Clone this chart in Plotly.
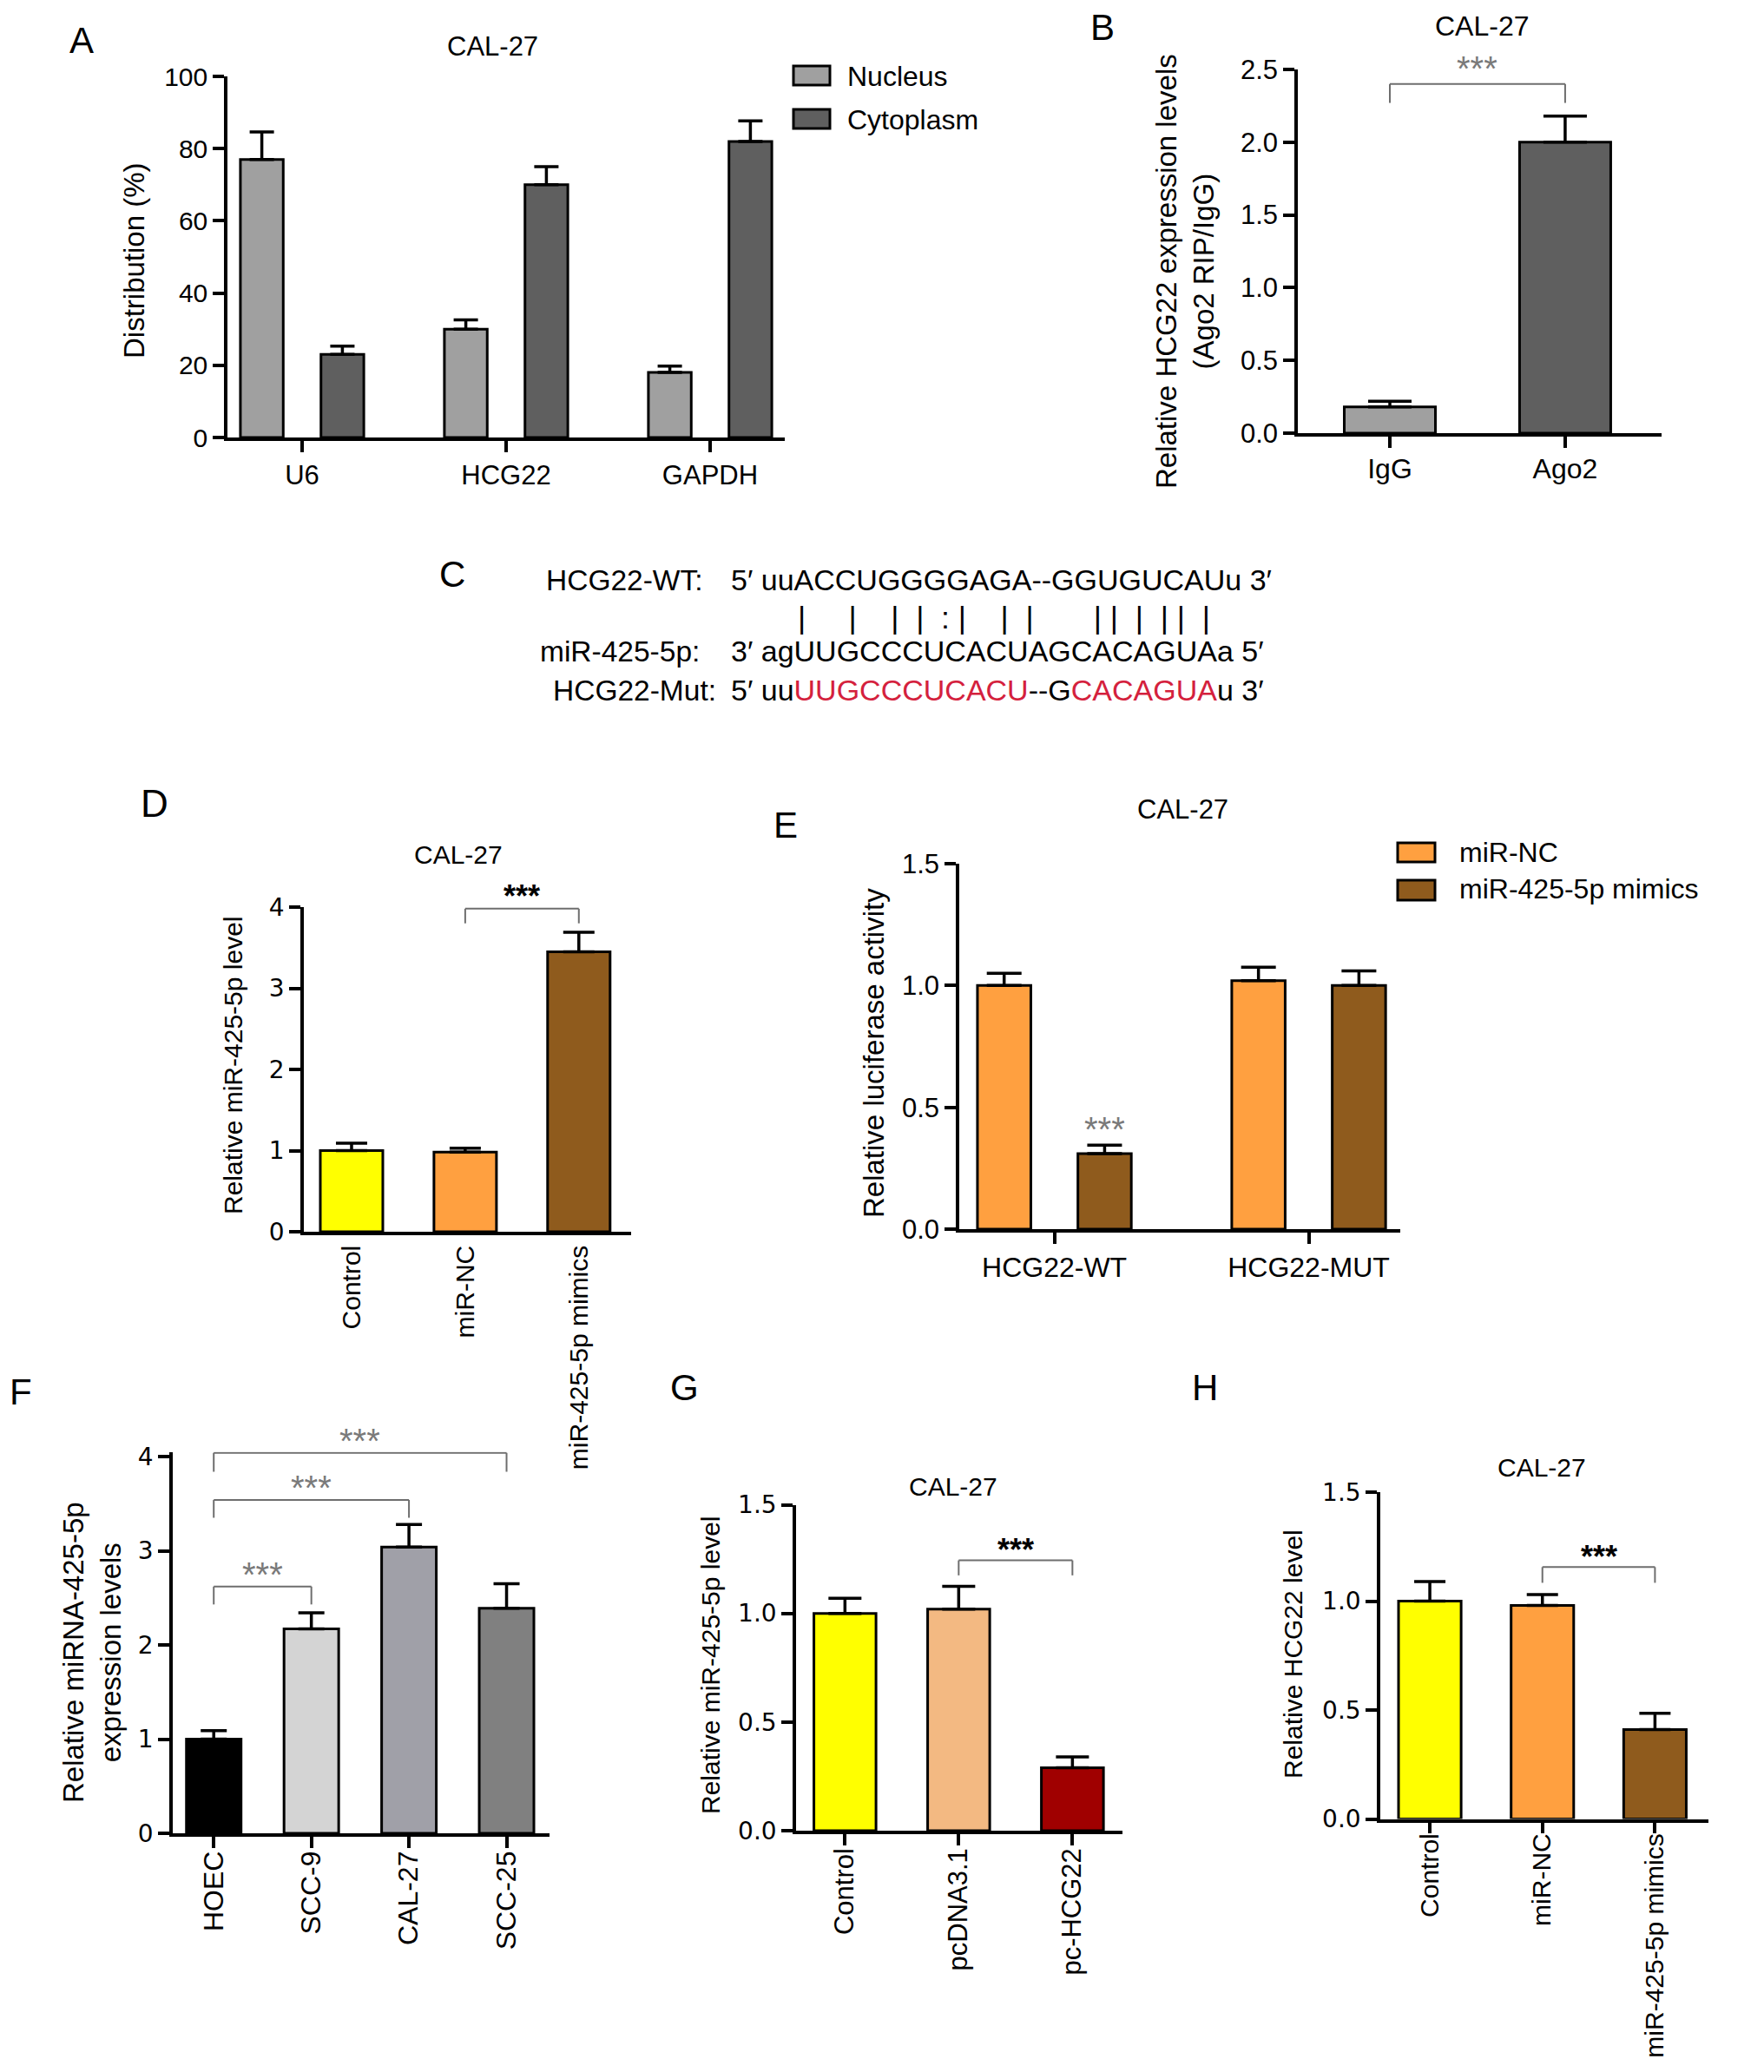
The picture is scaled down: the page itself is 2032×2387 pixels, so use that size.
import plotly.graph_objects as go

# Browser body margin is 8 px, so the figure is drawn 8 px smaller and every
# reference pixel position is shifted by that offset.
PAGE_W, PAGE_H = 2032, 2387
OFF = 8
W, H = PAGE_W - OFF, PAGE_H - OFF
BASE = "Liberation Sans, Arial, Helvetica, sans-serif"
WIDE = "DejaVu Sans, Verdana, sans-serif"

# ---------------- data ----------------
# A: subcellular distribution
a_categories = ["U6", "HCG22", "GAPDH"]
a_series = ["Nucleus", "Cytoplasm"]
a_nucleus = [77, 30, 18]
a_nucleus_err = [7.6, 2.6, 1.8]
a_cytoplasm = [23, 70, 82]
a_cytoplasm_err = [2.3, 5.0, 5.7]
a_colors = ["#a0a0a0", "#5f5f5f"]
a_yticks = [0, 20, 40, 60, 80, 100]

# B: RIP
b_categories = ["IgG", "Ago2"]
b_values = [0.18, 2.0]
b_err = [0.04, 0.18]
b_colors = ["#a0a0a0", "#5f5f5f"]
b_yticks = [0, 0.5, 1.0, 1.5, 2.0, 2.5]
b_sig = [(0, 1, 2.40, 2.27)]

# C: sequence alignment
c_labels = ["HCG22-WT:", "miR-425-5p:", "HCG22-Mut:"]
c_wt = "5\u2032 uuACCUGGGGAGA--GGUGUCAUu 3\u2032"
c_mir = "3\u2032 agUUGCCCUCACUAGCACAGUAa 5\u2032"
c_mut_parts = [("5\u2032 uu", False), ("UUGCCCUCACU", True), ("--G", False),
               ("CACAGUA", True), ("u 3\u2032", False)]
c_pairs = "|     |    |  |  :\u00a0|    |  |       | |  |  | |  |"

# D
d_categories = ["Control", "miR-NC", "miR-425-5p mimics"]
d_values = [1.0, 0.98, 3.45]
d_err = [0.09, 0.05, 0.24]
d_colors = ["#ffff00", "#ffa040", "#8f5b1d"]
d_yticks = [0, 1, 2, 3, 4]
d_sig = [(1, 2, 3.98, 3.80)]

# E: luciferase
e_categories = ["HCG22-WT", "HCG22-MUT"]
e_series = ["miR-NC", "miR-425-5p mimics"]
e_mirnc = [1.0, 1.02]
e_mirnc_err = [0.05, 0.055]
e_mimics = [0.31, 1.0]
e_mimics_err = [0.035, 0.06]
e_colors = ["#ffa040", "#8f5b1d"]
e_yticks = [0, 0.5, 1.0, 1.5]
e_star = (0, 1, 0.426)   # category index, series index, star level

# F
f_categories = ["HOEC", "SCC-9", "CAL-27", "SCC-25"]
f_values = [1.0, 2.17, 3.04, 2.39]
f_err = [0.09, 0.17, 0.24, 0.26]
f_colors = ["#000000", "#d4d4d4", "#a0a0a8", "#808080"]
f_yticks = [0, 1, 2, 3, 4]
f_sig = [(0, 1, 2.62, 2.43), (0, 2, 3.54, 3.35), (0, 3, 4.04, 3.84)]

# G
g_categories = ["Control", "pcDNA3.1", "pc-HCG22"]
g_values = [1.0, 1.02, 0.29]
g_err = [0.07, 0.105, 0.05]
g_colors = ["#ffff00", "#f3b982", "#a00000"]
g_yticks = [0, 0.5, 1.0, 1.5]
g_sig = [(1, 2, 1.244, 1.175)]

# H
h_categories = ["Control", "miR-NC", "miR-425-5p mimics"]
h_values = [1.0, 0.98, 0.41]
h_err = [0.09, 0.05, 0.075]
h_colors = ["#ffff00", "#ffa040", "#8f5b1d"]
h_yticks = [0, 0.5, 1.0, 1.5]
h_sig = [(1, 2, 1.156, 1.084)]

# ---------------- layout helpers ----------------
BARGAP = 0.21
fig = go.Figure()
layout = {}
annotations = []
shapes = []


def PX(px):
    return (px - OFF) / W


def PY(py):
    return 1 - (py - OFF) / H


def ids(n):
    return ("x", "y") if n == 1 else (f"x{n}", f"y{n}")


def add_axes(n, xpx, ypx, yrange, yticks, yfmt, xrange, yfont, xfont,
             xangle=0, xticks=True, xstand=0):
    xr, yr = ids(n)
    xa = "xaxis" if n == 1 else f"xaxis{n}"
    ya = "yaxis" if n == 1 else f"yaxis{n}"
    layout[xa] = dict(domain=[PX(xpx[0]), PX(xpx[1])], anchor=yr, type="category",
                      range=xrange, showline=True, linewidth=3.5, linecolor="black",
                      ticks="outside" if xticks else "", ticklen=13, tickwidth=3.5,
                      tickcolor="black", showgrid=False, zeroline=False, automargin=False,
                      tickfont=xfont, tickangle=xangle, fixedrange=True,
                      ticklabelstandoff=xstand)
    layout[ya] = dict(domain=[PY(ypx[1]), PY(ypx[0])], anchor=xr,
                      range=yrange, tickmode="array", tickvals=yticks, tickformat=yfmt,
                      showline=True, linewidth=3.5, linecolor="black", automargin=False,
                      ticks="outside", ticklen=13, tickwidth=3.5, tickcolor="black",
                      showgrid=False, zeroline=False, tickfont=yfont, fixedrange=True)


def add_bar(n, cats, vals, errs, colors, width, cap, name):
    xr, yr = ids(n)
    fig.add_trace(go.Bar(
        x=cats, y=vals, xaxis=xr, yaxis=yr, width=width, name=name,
        marker=dict(color=colors, line=dict(color="black", width=3)),
        error_y=dict(type="data", symmetric=False, array=errs,
                     arrayminus=[0] * len(errs), color="black",
                     thickness=3.5, width=cap),
        showlegend=False))


def star_annotation(xr, yr, x, y, bold, lift=0):
    if bold:
        annotations.append(dict(x=x, y=y, xref=xr, yref=yr, text="<b>***</b>",
                                showarrow=False, yanchor="middle", yshift=lift - 9,
                                font=dict(family=BASE, size=36, color="black")))
    else:
        annotations.append(dict(x=x, y=y, xref=xr, yref=yr, text="***",
                                showarrow=False, yanchor="middle", yshift=lift - 5,
                                font=dict(family=BASE, size=40, color="#7a7a7a")))


def add_brackets(n, sigs, bold, lift):
    xr, yr = ids(n)
    for i, j, ytop, yend in sigs:
        line = dict(color="#6e6e6e", width=2)
        shapes.append(dict(type="line", xref=xr, yref=yr, x0=i, x1=j, y0=ytop, y1=ytop, line=line))
        shapes.append(dict(type="line", xref=xr, yref=yr, x0=i, x1=i, y0=ytop, y1=yend, line=line))
        shapes.append(dict(type="line", xref=xr, yref=yr, x0=j, x1=j, y0=ytop, y1=yend, line=line))
        star_annotation(xr, yr, (i + j) / 2, ytop, bold, lift)


def text(xpx, ypx, s, size, xanchor="center", yanchor="middle", angle=0,
         family=BASE, color="black"):
    annotations.append(dict(x=PX(xpx), y=PY(ypx), xref="paper", yref="paper",
                            text=s, showarrow=False, xanchor=xanchor, yanchor=yanchor,
                            textangle=angle, font=dict(family=family, size=size, color=color)))


def legend_box(x0, y0, x1, y1, color, label, tx, ty):
    shapes.append(dict(type="rect", xref="paper", yref="paper",
                       x0=PX(x0), x1=PX(x1), y0=PY(y1), y1=PY(y0),
                       fillcolor=color, line=dict(color="black", width=3)))
    text(tx, ty, label, 32, xanchor="left")


f_reg = lambda s: dict(family=BASE, size=s, color="black")
f_wide = lambda s: dict(family=WIDE, size=s, color="black")

# ---------------- panel A ----------------
add_axes(1, (262, 904), (88, 504), [0, 100], a_yticks, "d", [-0.366, 2.366], f_reg(30), f_reg(31))
add_bar(1, a_categories, a_nucleus, a_nucleus_err, a_colors[0], 0.21, 14, a_series[0])
add_bar(1, a_categories, a_cytoplasm, a_cytoplasm_err, a_colors[1], 0.21, 14, a_series[1])
text(155, 300, "Distribution (%)", 33, angle=-90)
text(567, 54, "CAL-27", 31)
text(94, 46, "A", 42)
legend_box(914, 76, 956, 98, a_colors[0], a_series[0], 974, 88)
legend_box(914, 126, 956, 148, a_colors[1], a_series[1], 974, 138)

# ---------------- panel B ----------------
add_axes(2, (1495, 1914), (80, 499), [0, 2.5], b_yticks, ".1f", [-0.525, 1.55], f_reg(31), f_reg(32),
         xstand=-3)
add_bar(2, b_categories, b_values, b_err, b_colors, 0.52, 25, "RIP")
add_brackets(2, b_sig, False, 23)
text(1365, 313, "Relative HCG22 expression levels<br>(Ago2 RIP/IgG)", 33, angle=-90)
text(1707, 30, "CAL-27", 32)
text(1270, 32, "B", 42)

# ---------------- panel C ----------------
text(521, 661, "C", 42)
label_right = [812, 808, 827]
line_y = [668, 750, 795]
for lab, xr_, yy in zip(c_labels, label_right, line_y):
    text(xr_, yy, lab, 33.5, xanchor="right")
text(840, 668, c_wt, 34, xanchor="left")
text(840, 750, c_mir, 34, xanchor="left")
mut = "".join(f'<span style="color:#d4213d">{s}</span>' if red else s for s, red in c_mut_parts)
text(840, 795, mut, 34, xanchor="left")
text(917, 712, c_pairs.replace(" ", "\u00a0"), 35.5, xanchor="left")

# ---------------- panel D ----------------
add_axes(3, (350, 727), (1045, 1419), [0, 4], d_yticks, "d", [-0.42, 2.46], f_wide(28), f_reg(30),
         xangle=-90, xticks=False)
add_bar(3, d_categories, d_values, d_err, d_colors, 0.55, 18, "D")
add_brackets(3, d_sig, True, 23)
text(268, 1228, "Relative miR-425-5p level", 30, angle=-90)
text(528, 985, "CAL-27", 30)
text(178, 925, "D", 44)

# ---------------- panel E ----------------
add_axes(4, (1105, 1613), (995, 1416), [0, 1.5], e_yticks, ".1f", [-0.374, 1.36], f_reg(31), f_reg(32))
add_bar(4, e_categories, e_mirnc, e_mirnc_err, e_colors[0], 0.21, 20, e_series[0])
add_bar(4, e_categories, e_mimics, e_mimics_err, e_colors[1], 0.21, 20, e_series[1])
slot = (1 - BARGAP) / 4
star_annotation("x4", "y4", e_star[0] + (slot if e_star[1] == 1 else -slot), e_star[2], False)
text(1006, 1213, "Relative luciferase activity", 33, angle=-90)
text(1362, 932, "CAL-27", 31)
text(905, 951, "E", 42)
legend_box(1610, 971, 1653, 993, e_colors[0], e_series[0], 1679, 982)
legend_box(1610, 1014, 1653, 1037, e_colors[1], e_series[1], 1679, 1024)

# ---------------- panel F ----------------
add_axes(5, (199, 633), (1672.6, 2112), [0, 4.05], f_yticks, "d", [-0.42, 3.44], f_wide(28), f_reg(32),
         xangle=-90, xstand=-9)
add_bar(5, f_categories, f_values, f_err, f_colors, 0.56, 15, "F")
add_brackets(5, f_sig, False, 19)
text(106, 1904, "Relative miRNA-425-5p<br>expression levels", 33, angle=-90)
text(24, 1603, "F", 42)

# ---------------- panel G ----------------
add_axes(6, (917, 1293), (1733.5, 2109), [0, 1.5], g_yticks, ".1f", [-0.43, 2.44], f_wide(28), f_reg(31),
         xangle=-90, xstand=-9)
add_bar(6, g_categories, g_values, g_err, g_colors, 0.546, 19, "G")
add_brackets(6, g_sig, True, 21)
text(818, 1919, "Relative miR-425-5p level", 30, angle=-90)
text(1098, 1712, "CAL-27", 30)
text(788, 1598, "G", 42)

# ---------------- panel H ----------------
add_axes(7, (1590, 1968), (1719, 2095.5), [0, 1.5], h_yticks, ".1f", [-0.44, 2.475], f_wide(28), f_reg(30),
         xangle=-90, xstand=-12)
add_bar(7, h_categories, h_values, h_err, h_colors, 0.556, 18, "H")
add_brackets(7, h_sig, True, 21)
text(1489, 1906, "Relative HCG22 level", 30, angle=-90)
text(1776, 1690, "CAL-27", 30)
text(1388, 1598, "H", 42)

fig.update_layout(
    width=W, height=H, margin=dict(l=0, r=0, t=0, b=0, pad=0, autoexpand=False),
    paper_bgcolor="white", plot_bgcolor="white",
    barmode="group", bargap=BARGAP, bargroupgap=0,
    showlegend=False, font=dict(family=BASE, color="black"),
    annotations=annotations, shapes=shapes, **layout)

fig.write_html("out.html")
